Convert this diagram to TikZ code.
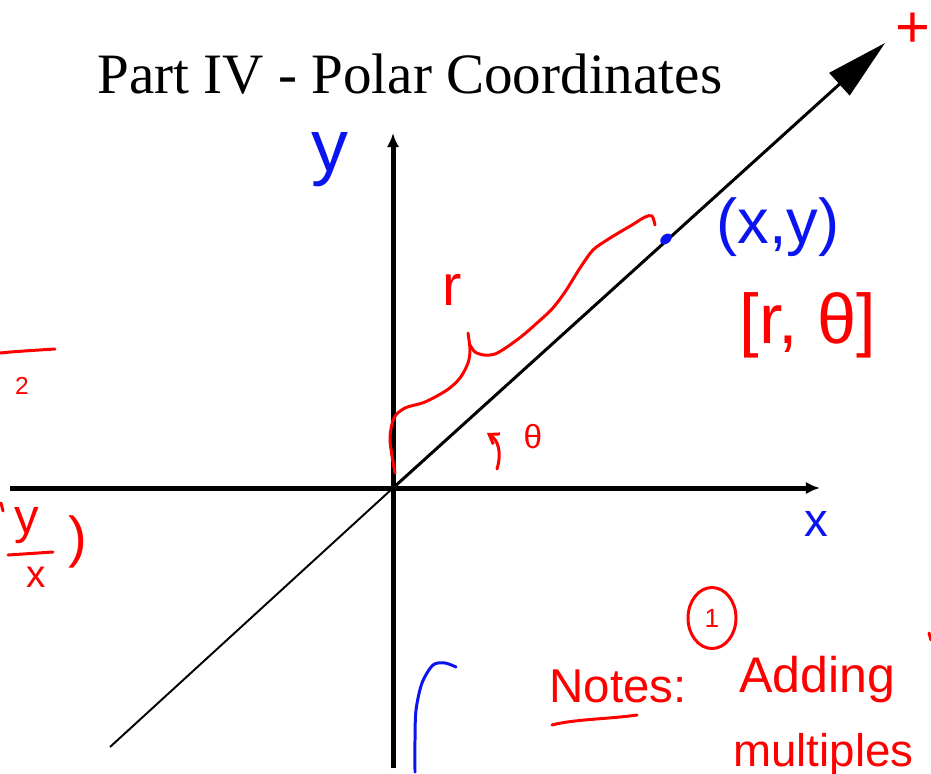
\documentclass[tikz,border=0pt]{standalone}
\usepackage{fontspec}
\setmainfont{Liberation Serif}
\newfontfamily\handfont{Liberation Sans}
\usetikzlibrary{arrows.meta,shapes.geometric}
\usepackage{xcolor}
\definecolor{inkred} {HTML}{FF0000}
\definecolor{inkblue}{HTML}{0A14F0}
\newcommand\fsz[1]{\fontsize{#1}{#1}\selectfont}

\begin{document}
\begin{tikzpicture}[x=0.2mm, y=-0.2mm,
  ax/.style  = {line width=2.85pt, -{Latex[length=8pt,width=7pt]}},
  ray/.style = {line width=1.1pt},
  ink/.style = {line width=1.7pt, line cap=round, line join=round},
  hw/.style  = {inner sep=0pt, font=\handfont},
  red/.style = {hw, text=inkred},
  blu/.style = {hw, text=inkblue}
]
\useasboundingbox (0,0) rectangle (931,773);

\node[anchor=base west, inner sep=0pt, font=\fsz{32.5}] (ttl) at (97,93) {Part IV - Polar Coordinates};

\coordinate (O)  at (393,488);
\coordinate (xw) at (10,488);
\coordinate (xe) at (820,488);
\coordinate (ys) at (393,768);
\coordinate (yn) at (393,133);
\coordinate (rs) at (110,747);
\coordinate (rn) at (885,43);
\draw[ax] (xw) -- (xe);
\draw[ax] (ys) -- (yn);
\draw[ray] (rs) -- (O);
\draw[ray, line width=1.7pt, -{Triangle[length=35pt,width=17pt]}] (O) -- (rn);

\node[blu, font=\handfont\fsz{42}] (ylab) at (330,160) {y};
\node[blu, font=\handfont\fsz{27}] (xlab) at (816,524) {x};
\node[ellipse, fill=inkblue, inner sep=0pt, minimum width=2.6mm, minimum height=1.8mm, rotate=40] (dot) at (666,239) {};
\node[blu, font=\handfont\fsz{36}] (pt) at (778,227) {(x,y)};
\node[red, font=\handfont\fsz{40}] (pol) at (808,325) {[r, θ]};
\node[red, font=\handfont\fsz{34}] (plus) at (913,30) {+};

\draw[ink, inkred] plot[smooth] coordinates {(395,473) (390,440) (394,418) (405,408) (425,402)
  (447,390) (460,378) (468,363) (470,350) (468,333)};
\draw[ink, inkred] plot[smooth] coordinates {(470,345) (475,352) (484,355) (495,354) (507,347)
  (522,336) (537,323) (552,309) (565,292) (580,268) (593,250) (607,240) (620,232) (632,225)
  (645,217) (652,216) (655,225)};
\node[red, font=\handfont\fsz{33}] (rlab) at (452,290) {r};
\draw[ink, inkred, -{Straight Barb[length=5pt,width=7pt]}] (497,469) .. controls (502,452) and (498,440) .. (487,433);
\node[red, font=\handfont\fsz{19}] (th) at (533,437) {θ};

\draw[ink, inkred] (0,353) .. controls (20,351) and (40,350) .. (55,349);
\node[red, font=\handfont\fsz{14}] (two) at (22,386) {2};
\draw[ink, inkred] (1,503) -- (3,511);
\node[red, font=\handfont\fsz{28}] (yfrac) at (27,526) {y};
\draw[ink, inkred] (8,555) -- (53,552);
\node[red, font=\handfont\fsz{22}] (xfrac) at (36,577) {x};
\node[red, font=\handfont\fsz{32}] (rpar) at (78,542) {)};

\draw[ink, inkblue] plot[smooth] coordinates {(415,772) (415,740) (416,710) (422,683) (433,665)
  (445,663) (456,667)};

\node[red, font=\handfont\fsz{27}] (notes) at (618,686) {Notes:};
\draw[ink, inkred] (552,725) .. controls (575,719) and (610,719) .. (637,715);
\node[red, draw=inkred, line width=1.7pt, ellipse, minimum width=9.6mm, minimum height=12.2mm,
  font=\handfont\fsz{15}] (one) at (712,618) {1};
\node[red, anchor=base, font=\handfont\fsz{28.5}] (add) at (817,692) {Adding};
\node[red, anchor=base west, font=\handfont\fsz{26}] (mult) at (733,766) {multiples};
\draw[ink, inkred] (929,633) -- (931,640);
\end{tikzpicture}
\end{document}
